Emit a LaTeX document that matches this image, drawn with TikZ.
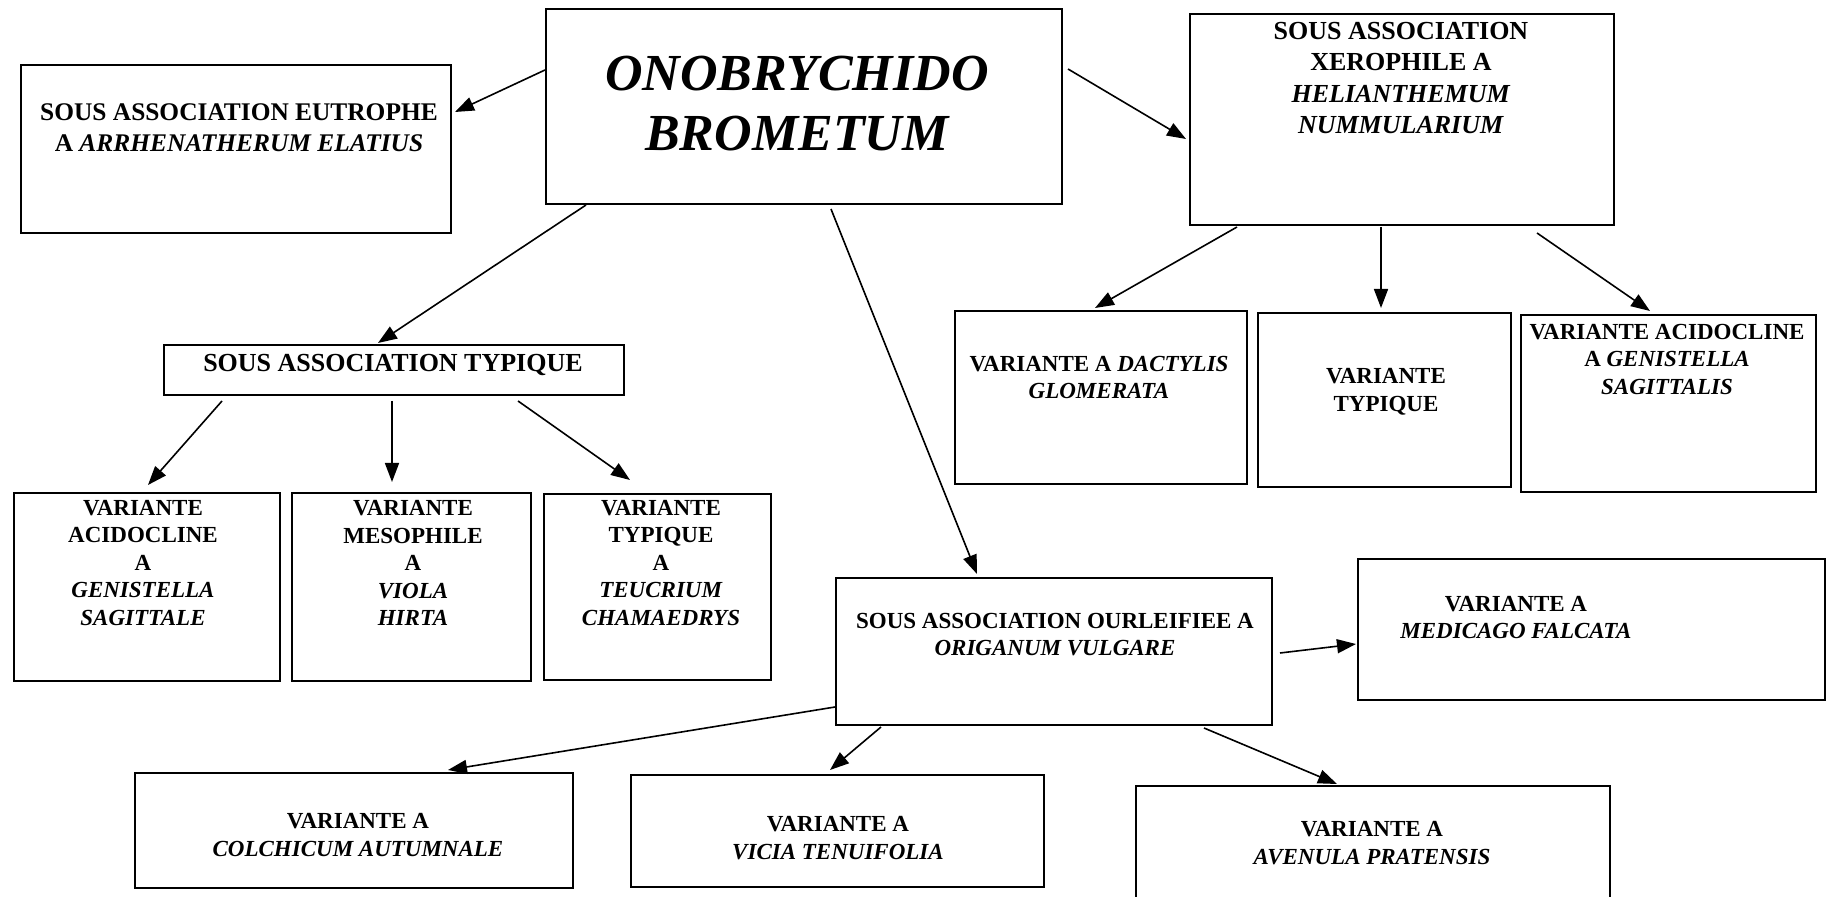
\documentclass[tikz,border=0pt]{standalone}
\usepackage{fontspec}
\setmainfont{Liberation Serif}
\usetikzlibrary{arrows.meta,fit}
\begin{document}
\begin{tikzpicture}[x=0.5pt,y=-0.5pt,
  box/.style={draw=black,line width=0.9pt,inner sep=0pt,outer sep=0pt},
  txt/.style={align=center,inner sep=0pt,outer sep=0pt},
  big/.style={font=\fontsize{26}{30}\selectfont\bfseries\itshape},
  head/.style={font=\fontsize{13}{15.75}\selectfont\bfseries},
  var/.style={font=\fontsize{11.5}{13.75}\selectfont\bfseries},
  arr/.style={-{Triangle[length=9.5pt,width=7pt]},line width=0.8pt}]
\useasboundingbox (0,0) rectangle (1827,897);
% boxes
\node[box,fit={(546,9) (1062,204)}] (ono) {};
\node[box,fit={(21,65) (451,233)}] (eut) {};
\node[box,fit={(1190,14) (1614,225)}] (xer) {};
\node[box,fit={(164,345) (624,395)}] (typ) {};
\node[box,fit={(14,493) (280,681)}] (va1) {};
\node[box,fit={(292,493) (531,681)}] (va2) {};
\node[box,fit={(544,494) (771,680)}] (va3) {};
\node[box,fit={(955,311) (1247,484)}] (dac) {};
\node[box,fit={(1258,313) (1511,487)}] (vt) {};
\node[box,fit={(1521,315) (1816,492)}] (vag) {};
\node[box,fit={(836,578) (1272,725)}] (our) {};
\node[box,fit={(1358,559) (1825,700)}] (med) {};
\node[box,fit={(135,773) (573,888)}] (col) {};
\node[box,fit={(631,775) (1044,887)}] (vic) {};
\node[box,fit={(1136,786) (1610,910)}] (ave) {};
% texts
\node[txt,big] (onot) at (797,104) {ONOBRYCHIDO\\BROMETUM};
\node[txt,font=\fontsize{12.7}{15.7}\selectfont\bfseries] (eutt) at (239,128) {SOUS ASSOCIATION EUTROPHE\\A \textit{ARRHENATHERUM ELATIUS}};
\node[txt,head] (xert) at (1401,78) {SOUS ASSOCIATION\\XEROPHILE A\\\textit{HELIANTHEMUM}\\\textit{NUMMULARIUM}};
\node[txt,head] (typt) at (393,365) {SOUS ASSOCIATION TYPIQUE};
\node[txt,var] (va1t) at (143,563) {VARIANTE\\ACIDOCLINE\\A\\\textit{GENISTELLA}\\\textit{SAGITTALE}};
\node[txt,var] (va2t) at (413,563) {VARIANTE\\MESOPHILE\\A\\\textit{VIOLA}\\\textit{HIRTA}};
\node[txt,var] (va3t) at (661,563) {VARIANTE\\TYPIQUE\\A\\\textit{TEUCRIUM}\\\textit{CHAMAEDRYS}};
\node[txt,var] (dact) at (1099,377.5) {VARIANTE A \textit{DACTYLIS}\\\textit{GLOMERATA}};
\node[txt,var] (vtt) at (1386,392) {VARIANTE\\TYPIQUE};
\node[txt,var] (vagt) at (1667,359.5) {VARIANTE ACIDOCLINE\\A \textit{GENISTELLA}\\\textit{SAGITTALIS}};
\node[txt,var] (ourt) at (1055,634.5) {SOUS ASSOCIATION OURLEIFIEE A\\\textit{ORIGANUM VULGARE}};
\node[txt,var] (medt) at (1516,617.5) {VARIANTE A\\\textit{MEDICAGO FALCATA}};
\node[txt,var] (colt) at (358,835) {VARIANTE A\\\textit{COLCHICUM AUTUMNALE}};
\node[txt,var] (vict) at (838,838) {VARIANTE A\\\textit{VICIA TENUIFOLIA}};
\node[txt,var] (avet) at (1372,843) {VARIANTE A\\\textit{AVENULA PRATENSIS}};
% connectors
\draw[arr] ([shift={(-1,61)}]ono.north west) -- ([shift={(434,47)}]eut.north west);
\draw[arr] ([shift={(522,60)}]ono.north west) -- ([shift={(-4,125)}]xer.north west);
\draw[arr] ([shift={(40,196)}]ono.north west) -- ([shift={(214,-2)}]typ.north west);
\draw[arr] ([shift={(285,200)}]ono.north west) -- ([shift={(141,-4)}]our.north west);
\draw[arr] ([shift={(47,213)}]xer.north west) -- ([shift={(140,-3)}]dac.north west);
\draw[arr] ([shift={(191,213)}]xer.north west) -- ([shift={(123,-5)}]vt.north west);
\draw[arr] ([shift={(347,219)}]xer.north west) -- ([shift={(129,-4)}]vag.north west);
\draw[arr] ([shift={(58,56)}]typ.north west) -- ([shift={(134,-8)}]va1.north west);
\draw[arr] ([shift={(228,56)}]typ.north west) -- ([shift={(100,-11)}]va2.north west);
\draw[arr] ([shift={(354,56)}]typ.north west) -- ([shift={(86,-14)}]va3.north west);
\draw[arr] ([shift={(444,75)}]our.north west) -- ([shift={(-2,85)}]med.north west);
\draw[arr] ([shift={(-1,129)}]our.north west) -- ([shift={(313,-3)}]col.north west);
\draw[arr] ([shift={(45,149)}]our.north west) -- ([shift={(199,-5)}]vic.north west);
\draw[arr] ([shift={(368,150)}]our.north west) -- ([shift={(201,-2)}]ave.north west);
\end{tikzpicture}
\end{document}
